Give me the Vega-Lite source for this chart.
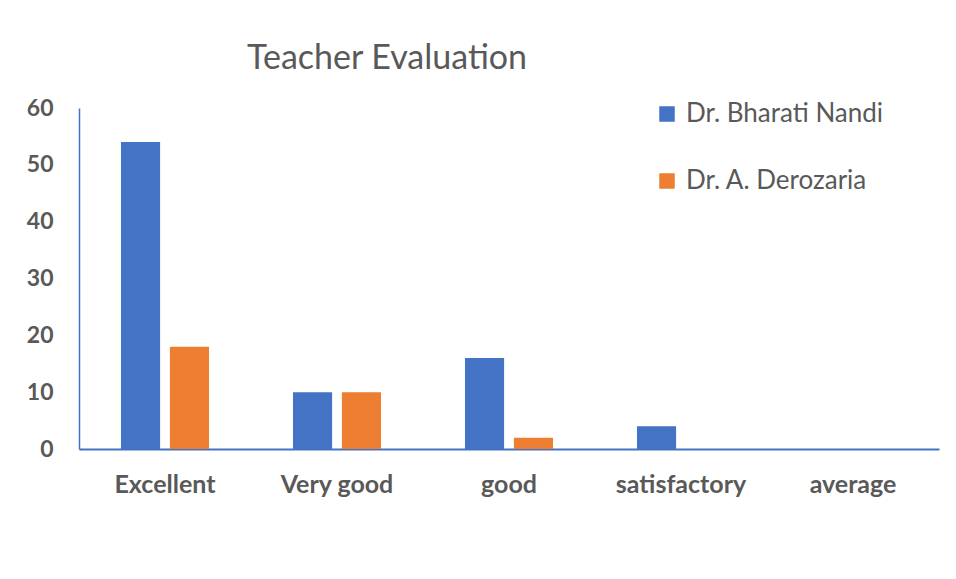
{
  "$schema": "https://vega.github.io/schema/vega-lite/v6.json",
  "width": 860,
  "height": 341,
  "autosize": "none",
  "padding": {"left": 79, "top": 108, "right": 17, "bottom": 130},
  "background": "white",
  "config": {
    "font": "Lato",
    "view": {"stroke": null}
  },
  "title": {
    "text": "Teacher Evaluation",
    "anchor": "start",
    "frame": "group",
    "dx": 168,
    "offset": 21,
    "fontSize": 34,
    "fontWeight": "normal",
    "color": "#595959",
    "font": "Lato"
  },
  "data": {
    "values": [
      {"category": "Excellent", "teacher": "Dr. Bharati Nandi", "value": 54},
      {"category": "Excellent", "teacher": "Dr. A. Derozaria", "value": 18},
      {"category": "Very good", "teacher": "Dr. Bharati Nandi", "value": 10},
      {"category": "Very good", "teacher": "Dr. A. Derozaria", "value": 10},
      {"category": "good", "teacher": "Dr. Bharati Nandi", "value": 16},
      {"category": "good", "teacher": "Dr. A. Derozaria", "value": 2},
      {"category": "satisfactory", "teacher": "Dr. Bharati Nandi", "value": 4},
      {"category": "satisfactory", "teacher": "Dr. A. Derozaria", "value": 0},
      {"category": "average", "teacher": "Dr. Bharati Nandi", "value": 0},
      {"category": "average", "teacher": "Dr. A. Derozaria", "value": 0}
    ]
  },
  "mark": {"type": "bar"},
  "encoding": {
    "x": {
      "field": "category",
      "type": "nominal",
      "sort": ["Excellent", "Very good", "good", "satisfactory", "average"],
      "scale": {"paddingInner": 0.488, "paddingOuter": 0.244},
      "axis": {
        "title": null,
        "labelAngle": 0,
        "labelFontSize": 25,
        "labelFontWeight": "bold",
        "labelColor": "#595959",
        "labelPadding": 23,
        "ticks": false,
        "domainColor": "#4472c4",
        "domainWidth": 2,
        "grid": false
      }
    },
    "xOffset": {
      "field": "teacher",
      "type": "nominal",
      "sort": ["Dr. Bharati Nandi", "Dr. A. Derozaria"],
      "scale": {"paddingInner": 0.2, "paddingOuter": 0}
    },
    "y": {
      "field": "value",
      "type": "quantitative",
      "scale": {"domain": [0, 60], "nice": false},
      "axis": {
        "title": null,
        "values": [0, 10, 20, 30, 40, 50, 60],
        "labelFontSize": 23,
        "labelFontWeight": "bold",
        "labelColor": "#595959",
        "labelPadding": 26,
        "ticks": false,
        "grid": false,
        "domainColor": "#4472c4",
        "domainWidth": 1.5
      }
    },
    "color": {
      "field": "teacher",
      "type": "nominal",
      "sort": ["Dr. Bharati Nandi", "Dr. A. Derozaria"],
      "scale": {"domain": ["Dr. Bharati Nandi", "Dr. A. Derozaria"], "range": ["#4472c4", "#ed7d31"]},
      "legend": {
        "title": null,
        "orient": "none",
        "legendX": 575,
        "legendY": -7,
        "symbolType": "square",
        "symbolSize": 240,
        "symbolStrokeWidth": 0,
        "labelFontSize": 26,
        "labelColor": "#595959",
        "labelOffset": 6,
        "rowPadding": 41,
        "labelLimit": 300
      }
    }
  }
}
